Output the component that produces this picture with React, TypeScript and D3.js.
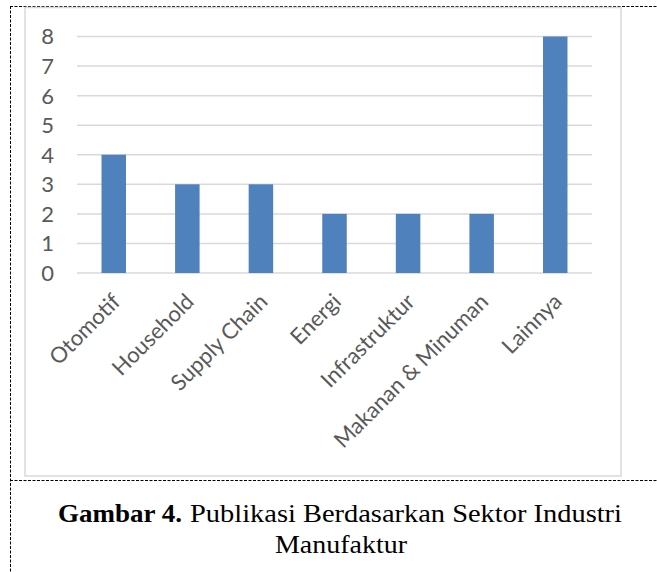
import React, { useEffect, useRef } from 'react'
import * as d3 from 'd3'

const categories = ['Otomotif', 'Household', 'Supply Chain', 'Energi', 'Infrastruktur', 'Makanan & Minuman', 'Lainnya']
const values = [4, 3, 3, 2, 2, 2, 8]
const yTicks = [0, 1, 2, 3, 4, 5, 6, 7, 8]
const captionBold = 'Gambar 4.'
const captionRest = 'Publikasi Berdasarkan Sektor Industri'
const captionLine2 = 'Manufaktur'

const width = 657
const height = 572
const plot = { left: 77, right: 592, top: 36.5, bottom: 273 }

export default function App() {
  const node = useRef<SVGSVGElement>(null)

  useEffect(() => {
    const svg = d3.select(node.current)
    svg.selectAll('*').remove()

    const x = d3.scaleBand<string>()
      .domain(categories)
      .range([plot.left, plot.right])
      .paddingInner(0.667)
      .paddingOuter(0.333)

    const y = d3.scaleLinear()
      .domain([0, 8])
      .range([plot.bottom, plot.top])

    // dashed frame of the document
    const dash = svg.append('g')
      .attr('stroke', '#000')
      .attr('stroke-width', 1)
      .attr('stroke-dasharray', '3,1.5')
    dash.append('line').attr('x1', 10).attr('x2', width).attr('y1', 6.5).attr('y2', 6.5)
    dash.append('line').attr('x1', 10).attr('x2', width).attr('y1', 480.5).attr('y2', 480.5)
    dash.append('line').attr('x1', 10.5).attr('x2', 10.5).attr('y1', 6).attr('y2', height)

    // chart box
    svg.append('rect')
      .attr('x', 25).attr('y', 7.5)
      .attr('width', 596).attr('height', 468.5)
      .attr('fill', '#fff')
      .attr('stroke', '#d9d9d9')
      .attr('stroke-width', 1.5)

    // grid
    svg.append('g')
      .selectAll('line')
      .data(yTicks)
      .join('line')
      .attr('x1', plot.left)
      .attr('x2', plot.right)
      .attr('y1', d => y(d))
      .attr('y2', d => y(d))
      .attr('stroke', '#d9d9d9')
      .attr('stroke-width', 1.5)

    // y labels
    svg.append('g')
      .selectAll('text')
      .data(yTicks)
      .join('text')
      .attr('x', 54)
      .attr('y', d => y(d))
      .attr('dy', '0.36em')
      .attr('text-anchor', 'end')
      .attr('font-family', 'Lato, sans-serif')
      .attr('font-size', 22)
      .attr('fill', '#595959')
      .text(d => d)

    // bars
    svg.append('g')
      .selectAll('rect')
      .data(values)
      .join('rect')
      .attr('x', (d, i) => x(categories[i])!)
      .attr('y', d => y(d))
      .attr('width', x.bandwidth())
      .attr('height', d => y(0) - y(d))
      .attr('fill', '#4f81bd')

    // x labels
    svg.append('g')
      .selectAll('text')
      .data(categories)
      .join('text')
      .attr('transform', d => `translate(${x(d)! + x.bandwidth() / 2 + 8},${plot.bottom + 30}) rotate(-45)`)
      .attr('text-anchor', 'end')
      .attr('font-family', 'Lato, sans-serif')
      .attr('font-size', 22)
      .attr('fill', '#595959')
      .text(d => d)

    // caption
    const cap = svg.append('g')
      .attr('font-family', 'Liberation Serif, serif')
      .attr('font-size', 26)
      .attr('fill', '#000')
    cap.append('text').attr('x', 58).attr('y', 522)
      .attr('font-weight', 'bold')
      .attr('textLength', 124).attr('lengthAdjust', 'spacingAndGlyphs')
      .text(captionBold)
    cap.append('text').attr('x', 190).attr('y', 522)
      .attr('textLength', 432).attr('lengthAdjust', 'spacingAndGlyphs')
      .text(captionRest)
    cap.append('text').attr('x', 341).attr('y', 553)
      .attr('text-anchor', 'middle')
      .attr('textLength', 132).attr('lengthAdjust', 'spacingAndGlyphs')
      .text(captionLine2)
  }, [])

  return (
    <svg ref={node} width={width} height={height}
      style={{ position: 'absolute', left: 0, top: 0, background: '#fff' }} />
  )
}
